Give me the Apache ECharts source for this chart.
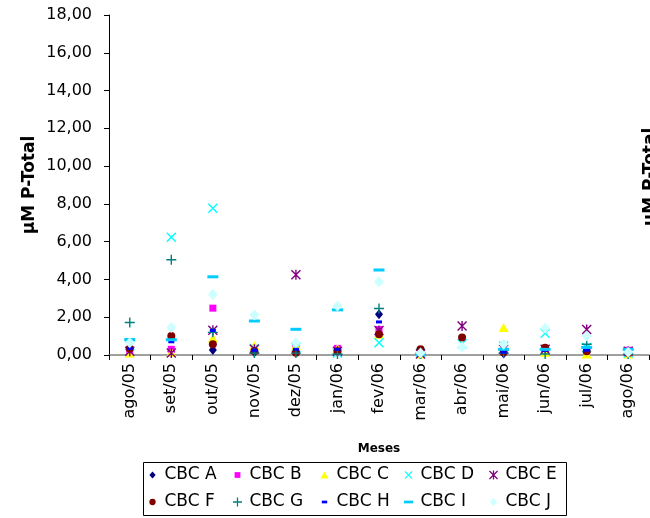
<!DOCTYPE html>
<html>
<head>
<meta charset="utf-8">
<script src="https://cdn.jsdelivr.net/npm/echarts@6/dist/echarts.min.js"></script>
<style>
html,body{margin:0;padding:0;background:#fff;}
#chart{width:650px;height:518px;}
</style>
</head>
<body>
<div id="chart"></div>
<script>
const months = ['ago/05','set/05','out/05','nov/05','dez/05','jan/06','fev/06','mar/06','abr/06','mai/06','jun/06','jul/06','ago/06'];
const yTicks = [0,2,4,6,8,10,12,14,16,18];
const seriesNames = ['CBC A','CBC B','CBC C','CBC D','CBC E','CBC F','CBC G','CBC H','CBC I','CBC J'];
const cbcA = [0.30, 0.20, 0.27, 0.15, 0.20, 0.25, 2.16, 0.05, null, 0.08, 0.20, 0.15, 0.15];
const cbcB = [0.25, 0.30, 2.48, 0.35, 0.35, 0.35, 1.35, 0.05, null, 0.20, 0.30, 0.25, 0.25];
const cbcC = [0.10, 0.15, 0.90, 0.50, 0.50, 0.35, 1.10, 0.05, null, 1.45, 0.15, 0.05, 0.05];
const cbcD = [0.50, 6.23, 7.77, 0.35, 0.40, 0.10, 0.65, 0.10, 0.60, 0.48, 1.15, 0.40, 0.10];
const cbcE = [0.20, 0.10, 1.31, 0.30, 4.25, 0.20, 1.30, 0.05, 1.54, 0.30, 0.30, 1.35, 0.20];
const cbcF = [0.35, 1.00, 0.57, 0.20, 0.12, 0.20, 1.10, 0.30, 0.92, 0.15, 0.39, 0.20, 0.10];
const cbcG = [1.72, 5.04, 1.20, 0.10, 0.10, 0.05, 2.46, 0.05, null, 0.10, 0.05, 0.57, 0.05];
const cbcH = [0.35, 0.70, 1.30, 0.25, 0.30, 0.30, 1.75, 0.05, null, 0.15, 0.25, 0.25, 0.20];
const cbcI = [0.82, 0.81, 4.14, 1.80, 1.36, 2.39, 4.50, 0.05, null, 0.30, 0.30, 0.40, 0.30];
const cbcJ = [0.65, 1.45, 3.20, 2.12, 0.65, 2.60, 3.88, 0.10, 0.42, 0.57, 1.42, 1.00, 0.15];

const allValues = [cbcA,cbcB,cbcC,cbcD,cbcE,cbcF,cbcG,cbcH,cbcI,cbcJ];

const X_PATH = 'path://M0,1L1,0L10,9L9,10ZM9,0L10,1L1,10L0,9Z';
const STAR_PATH = 'path://M0,1L1,0L10,9L9,10ZM9,0L10,1L1,10L0,9ZM4.3,0H5.7V10H4.3Z';
const PLUS_PATH = 'path://M4.3,0H5.7V4.3H10V5.7H5.7V10H4.3V5.7H0V4.3H4.3Z';
const styles = [
  {symbol:'diamond', size:[8,10], color:'#000080'},
  {symbol:'rect', size:7, color:'#FF00FF'},
  {symbol:'triangle', size:[10,9], color:'#FFFF00'},
  {symbol:X_PATH, size:10, color:'#00FFFF'},
  {symbol:STAR_PATH, size:10, color:'#800080'},
  {symbol:'circle', size:8, color:'#800000'},
  {symbol:PLUS_PATH, size:10, color:'#008080'},
  {symbol:'rect', size:[6,3], color:'#0000FF'},
  {symbol:'rect', size:[11,3], color:'#00CCFF'},
  {symbol:'diamond', size:[10,11], color:'#CCFFFF'}
];
const legendIcons = [
  'path://M0,0M10,10M5,1L8.5,5L5,9L1.5,5Z',
  'path://M0,0M10,10M1.8,1.8H8.2V8.2H1.8Z',
  'path://M0,0M10,10M5,1L9.5,9H0.5Z',
  'path://M0,0M10,10M0.5,1.5L1.5,0.5L9.5,8.5L8.5,9.5ZM8.5,0.5L9.5,1.5L1.5,9.5L0.5,8.5Z',
  STAR_PATH,
  'path://M0,0M10,10M1.5,5A3.5,3.5,0,1,1,8.5,5A3.5,3.5,0,1,1,1.5,5Z',
  PLUS_PATH,
  'path://M0,0M10,10M2,3.5H8V6.5H2Z',
  'path://M0,0M10,10M0,3.5H10V6.5H0Z',
  'path://M0,0M10,10M5,0.5L9,5L5,9.5L1,5Z'
];

const FONT = 'DejaVu Sans';
const series = seriesNames.map((n,i)=>({
  name:n, type:'scatter',
  symbol:styles[i].symbol, symbolSize:styles[i].size,
  itemStyle:{color:styles[i].color, opacity:1},
  data: allValues[i].map(v => v === null ? '-' : v),
  emphasis:{disabled:true}
}));

const legendCols = [148,233,320,404,489];
const legends = legendCols.map((x,c)=>({
  orient:'vertical', left:x, top:466, padding:0,
  itemWidth:14, itemHeight:9, itemGap:9,
  selectedMode:false,
  textStyle:{fontFamily:FONT, fontSize:17, color:'#000', lineHeight:18},
  data:[
    {name:seriesNames[c], icon:legendIcons[c]},
    {name:seriesNames[c+5], icon:legendIcons[c+5]}
  ]
}));

const chart = echarts.init(document.getElementById('chart'), null, {renderer:'canvas'});
chart.setOption({
  animation:false,
  backgroundColor:'#fff',
  grid:{left:109, right:1, top:15, bottom:163, containLabel:false},
  xAxis:{
    type:'category', data:months, boundaryGap:true,
    name:'Meses', nameLocation:'middle', nameGap:88,
    nameTextStyle:{fontFamily:FONT, fontWeight:'bold', fontSize:12, color:'#000'},
    axisLine:{lineStyle:{color:'#808080', width:1.5}},
    axisTick:{show:true, length:5, lineStyle:{color:'#000'}},
    axisLabel:{rotate:90, margin:8, fontFamily:FONT, fontSize:16, color:'#000', interval:0},
    splitLine:{show:false}
  },
  yAxis:{
    type:'value', min:0, max:18, interval:2,
    name:'µM P-Total', nameLocation:'middle', nameGap:71, nameMoveOverlap:false,
    nameTextStyle:{fontFamily:FONT, fontWeight:'bold', fontSize:17, color:'#000'},
    axisLine:{show:true, lineStyle:{color:'#000', width:1}},
    axisTick:{show:true, length:5, lineStyle:{color:'#000'}},
    axisLabel:{margin:17, fontFamily:FONT, fontSize:16, color:'#000',
      formatter: v => yTicks.includes(v) ? v.toFixed(2).replace('.', ',') : ''},
    splitLine:{show:false}
  },
  legend: legends,
  graphic:[
    {type:'rect', left:143, top:462, z:-1, shape:{width:423, height:53},
      style:{fill:'#fff', stroke:'#000', lineWidth:1}},
    {type:'text', x:642, y:177, rotation:Math.PI/2,
      style:{text:'µM P-Total', font:'bold 17px "DejaVu Sans"', fill:'#000', align:'center', verticalAlign:'top'}}
  ],
  series: series
});
</script>
</body>
</html>
